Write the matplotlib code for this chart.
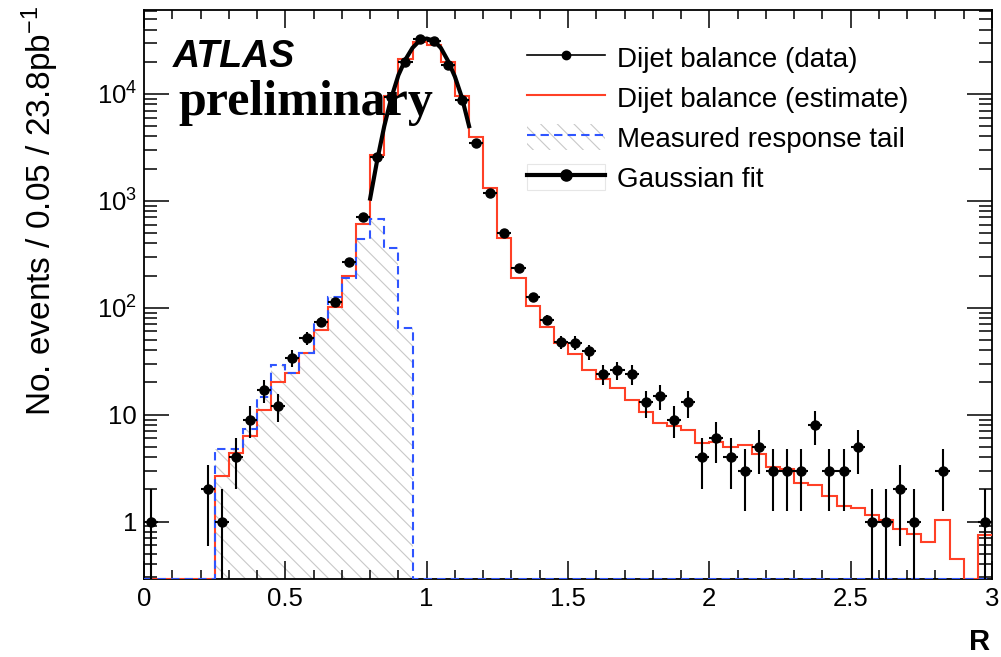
import numpy as np
import matplotlib
matplotlib.use("Agg")
import matplotlib.pyplot as plt
from matplotlib.lines import Line2D
from matplotlib.patches import Patch
from matplotlib.ticker import FixedLocator, FixedFormatter, MultipleLocator, NullFormatter

plt.rcParams['font.family'] = ['Liberation Sans', 'DejaVu Sans']
plt.rcParams['mathtext.fontset'] = 'custom'
plt.rcParams['mathtext.rm'] = 'Liberation Sans'
plt.rcParams['mathtext.it'] = 'Liberation Sans:italic'
plt.rcParams['mathtext.bf'] = 'Liberation Sans:bold'
plt.rcParams['hatch.linewidth'] = 0.8

# ---------------- data ----------------
bin_edges = np.round(np.arange(0, 3.0001, 0.05), 3)

data_counts = [1, 0, 0, 0, 2, 1, 4, 9, 17, 12,
               34, 52, 74, 114, 266, 702, 2550, 9300, 19700, 32600,
               31600, 18700, 8800, 3510, 1195, 497, 235, 126, 77, 48,
               47, 39, 24, 26, 24, 13, 15, 9, 13, 4,
               6, 4, 3, 5, 3, 3, 3, 8, 3, 3,
               5, 1, 1, 2, 1, 0, 3, 0, 0, 1]

estimate_counts = [0, 0, 0, 0, 0, 2.65, 4.4, 6.3, 11, 20.3,
                   24.6, 37.9, 61.8, 102, 199, 604, 2690, 9470, 21200, 30300,
                   28800, 19700, 9660, 3940, 1330, 452, 188, 104, 65.5, 47,
                   36.6, 26, 21.6, 17.6, 13.7, 10.5, 8.3, 7.9, 7.2, 5.4,
                   5.5, 5.0, 5.2, 4.24, 3.24, 3.07, 2.27, 2.19, 1.74, 1.4,
                   1.34, 1.15, 1.03, 0.85, 0.77, 0.65, 1.03, 0.45, 0, 0.755]

tail_counts = [0, 0, 0, 0, 0, 4.8, 4.8, 7.3, 14.7, 29,
               24.6, 38, 74, 127, 188, 437, 673, 360, 64, 0,
               0, 0, 0, 0, 0, 0, 0, 0, 0, 0,
               0, 0, 0, 0, 0, 0, 0, 0, 0, 0,
               0, 0, 0, 0, 0, 0, 0, 0, 0, 0,
               0, 0, 0, 0, 0, 0, 0, 0, 0, 0]

fit_R = [0.80, 0.825, 0.85, 0.875, 0.90, 0.925, 0.95, 0.975, 1.00,
         1.025, 1.05, 1.075, 1.10, 1.125, 1.15]
fit_N = [1050, 2400, 5000, 9200, 15000, 21000, 27000, 31500, 33000,
         31500, 27000, 20500, 14500, 9200, 5000]

legend_labels = ["Dijet balance (data)", "Dijet balance (estimate)",
                 "Measured response tail", "Gaussian fit"]
x_ticks = [0, 0.5, 1, 1.5, 2, 2.5, 3]
x_tick_labels = ["0", "0.5", "1", "1.5", "2", "2.5", "3"]
y_ticks = [1, 10, 100, 1000, 10000]
y_tick_labels = ["1", "10", r"$10^{2}$", r"$10^{3}$", r"$10^{4}$"]

YMIN, YMAX = 0.29, 6.1e4
RED = '#ff4026'
BLUE = '#2f55ff'
HATCH = '#c8c8c8'

# ---------------- figure ----------------
W, H = 1001, 657
fig = plt.figure(figsize=(W / 100, H / 100), dpi=100)
ax = fig.add_axes([144 / W, (H - 579) / H, (992 - 144) / W, (579 - 10) / H])
ax.set_yscale('log')
ax.set_xlim(0, 3)
ax.set_ylim(YMIN, YMAX)

edges = bin_edges
centers = (edges[:-1] + edges[1:]) / 2

tail = np.maximum(np.array(tail_counts, float), YMIN)
est = np.maximum(np.array(estimate_counts, float), YMIN)

ax.stairs(tail, edges, baseline=YMIN, fill=True, facecolor='none',
          edgecolor=HATCH, hatch='\\\\', linewidth=0, zorder=1)
ax.stairs(est, edges, baseline=None, color=RED, linewidth=1.5, zorder=3)
ax.stairs(tail, edges, baseline=None, color=BLUE, linewidth=1.5,
          linestyle=(0, (4, 2.5)), zorder=3.2)

dc = np.array(data_counts, float)
m = dc > 0
yv = dc[m]
err = np.sqrt(yv)
lo = np.minimum(err, yv - 1e-3)
ax.errorbar(centers[m], yv, yerr=[lo, err], xerr=0.025, fmt='o', color='black',
            markersize=6.5, elinewidth=1.5, capsize=0, zorder=4)

ax.plot(fit_R, fit_N, color='black', linewidth=3, zorder=5)

# ticks
ax.xaxis.set_major_locator(FixedLocator(x_ticks))
ax.xaxis.set_major_formatter(FixedFormatter(x_tick_labels))
ax.xaxis.set_minor_locator(MultipleLocator(0.1))
ax.yaxis.set_major_locator(FixedLocator(y_ticks))
ax.yaxis.set_major_formatter(FixedFormatter(y_tick_labels))
minor_y = [s * 10.0 ** e for e in range(-1, 5) for s in range(2, 10)]
ax.yaxis.set_minor_locator(FixedLocator(minor_y))
ax.yaxis.set_minor_formatter(NullFormatter())

ax.tick_params(axis='both', which='both', direction='in', top=True, right=True,
               width=1.1, labelsize=18.5)
ax.tick_params(axis='x', which='major', length=13, pad=5.5)
ax.tick_params(axis='x', which='minor', length=6.5)
ax.tick_params(axis='y', which='major', length=18, pad=5)
ax.tick_params(axis='y', which='minor', length=9.5)
for s in ax.spines.values():
    s.set_linewidth(1.3)

# labels
fig.text(40 / W, 1 - 211 / H, r"No. events / 0.05 / 23.8pb$^{-1}$",
         rotation=90, ha='center', va='center', fontsize=24)
fig.text(990 / W, 1 - 650 / H, "R", ha='right', va='baseline',
         fontsize=21, fontweight='bold')
fig.text(173 / W, 1 - 67 / H, "ATLAS", ha='left', va='baseline',
         fontsize=27, fontweight='bold', fontstyle='italic')
fig.text(178 / W, 1 - 115 / H, "preliminary", ha='left', va='baseline',
         fontsize=36, fontweight='bold', family=['Liberation Serif', 'DejaVu Serif'])

# legend
h_data = Line2D([], [], color='black', linewidth=1.2, marker='o', markersize=6)
h_est = Line2D([], [], color=RED, linewidth=1.5)
h_tail = (Patch(facecolor='none', edgecolor=HATCH, hatch='\\\\', linewidth=0),
          Line2D([], [], color=BLUE, linewidth=1.5, linestyle=(0, (4, 2.5))))
h_fit = (Patch(facecolor='white', edgecolor='#e6e6e6', linewidth=0.8),
         Line2D([], [], color='black', linewidth=3, marker='o', markersize=8))
leg = ax.legend([h_data, h_est, h_tail, h_fit], legend_labels,
                loc='upper left', bbox_to_anchor=(527 / W, 1 - 44 / H),
                bbox_transform=fig.transFigure, frameon=False, fontsize=20,
                handlelength=2.8, handleheight=1.08, handletextpad=0.45,
                labelspacing=0.41, borderpad=0, borderaxespad=0)

fig.savefig("out.png", dpi=100)
